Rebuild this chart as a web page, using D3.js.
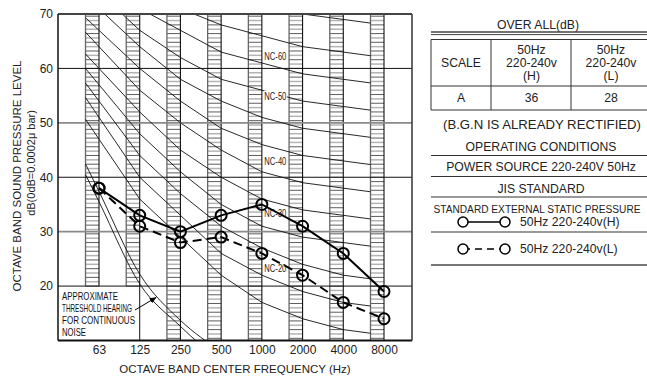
<!DOCTYPE html>
<html>
<head>
<meta charset="utf-8">
<script src="https://cdn.jsdelivr.net/npm/d3@7"></script>
<style>
  html, body { margin: 0; padding: 0; background: #fff; }
  svg { display: block; font-family: "Liberation Sans", Arial, sans-serif; }
</style>
</head>
<body>
<svg id="chart" width="647" height="378"></svg>
<script>
// Octave band centre frequencies (category labels)
const freqs = ["63", "125", "250", "500", "1000", "2000", "4000", "8000"];
const yTicks = [20, 30, 40, 50, 60, 70];

// Measured sound pressure levels (dB)
const seriesH = [38, 33, 30, 33, 35, 31, 26, 19];   // 50Hz 220-240v (H)
const seriesL = [38, 31, 28, 29, 26, 22, 17, 14];   // 50Hz 220-240v (L)

// Noise criterion curves, dB per octave band
const ncNames = ["NC-15", "NC-20", "NC-25", "NC-30", "NC-35", "NC-40", "NC-45", "NC-50", "NC-55", "NC-60", "NC-65", "NC-70"];
const ncLevels = [
  [47, 36, 29, 22, 17, 14, 12, 11],
  [51, 40, 33, 26, 22, 19, 17, 16],
  [54, 44, 37, 31, 27, 24, 22, 21],
  [57, 48, 41, 35, 31, 29, 28, 27],
  [60, 52, 45, 40, 36, 34, 33, 32],
  [64, 56, 50, 45, 41, 39, 38, 37],
  [67, 60, 54, 49, 46, 44, 43, 42],
  [71, 64, 58, 54, 51, 49, 48, 47],
  [74, 67, 62, 58, 56, 54, 53, 52],
  [77, 71, 67, 63, 61, 59, 58, 57],
  [80, 75, 71, 68, 66, 64, 63, 62],
  [83, 79, 75, 72, 71, 70, 69, 68]
];
// Curve names that are printed, and the level each name is printed at
const ncLabels = ["NC-20", "NC-30", "NC-40", "NC-50", "NC-60"];
const ncLabelLevels = [23.3, 33.3, 43, 54.9, 62.3];

// Approximate hearing threshold for continuous noise (63-500 Hz)
const thresholdLow = [35.5, 20.4, 12.6, 6];
const thresholdHigh = [37.4, 22.2, 13.7, 8];

// Overall levels table
const tableCols = ["SCALE", "50Hz|220-240v|(H)", "50Hz|220-240v|(L)"];
const tableRow = ["A", "36", "28"];

const svg = d3.select("#chart");
const plot = { left: 58, right: 412, top: 14, bottom: 340.5 };
const bandW = 13.5;

const x = d3.scaleLinear().domain([0, freqs.length - 1]).range([99, 384]);
const y = d3.scaleLinear().domain([10, 70]).range([plot.bottom, plot.top]);

const defs = svg.append("defs");
defs.append("clipPath").attr("id", "plotClip")
  .append("rect").attr("x", plot.left).attr("y", plot.top)
  .attr("width", plot.right - plot.left).attr("height", plot.bottom - plot.top);
defs.append("marker").attr("id", "arrowHead")
  .attr("viewBox", "0 0 10 10").attr("refX", 9).attr("refY", 5)
  .attr("markerWidth", 7).attr("markerHeight", 7).attr("orient", "auto")
  .append("path").attr("d", "M0,1 L10,5 L0,9 Z").attr("fill", "#000");

// Hatched octave bands (63 and 125 stop at the 20 dB line)
const bands = svg.append("g");
const hatchStep = 0.8;
freqs.forEach((f, i) => {
  const x1 = x(i) - bandW, x2 = x(i);
  const floorDb = i < 2 ? 20 : 10;
  const g = bands.append("g");
  let k = 0;
  for (let v = 70 - hatchStep / 2; v > floorDb; v -= hatchStep, k++) {
    const dark = k % 2 === 0;
    g.append("line").attr("x1", x1).attr("x2", x2).attr("y1", y(v)).attr("y2", y(v))
      .attr("stroke", dark ? "#333" : "#b4b4b4").attr("stroke-width", dark ? 0.8 : 1.5);
  }
  g.append("line").attr("x1", x1).attr("x2", x1).attr("y1", y(70)).attr("y2", y(floorDb))
    .attr("stroke", "#666").attr("stroke-width", 1.3);
  g.append("line").attr("x1", x2).attr("x2", x2).attr("y1", y(70)).attr("y2", y(floorDb))
    .attr("stroke", "#111").attr("stroke-width", 1.1);
});

// Horizontal grid
const grid = svg.append("g");
yTicks.filter(v => v < 70).forEach(v => {
  const grey = v === 50 || v === 30;
  grid.append("line").attr("x1", plot.left).attr("x2", plot.right)
    .attr("y1", y(v)).attr("y2", y(v))
    .attr("stroke", grey ? "#8a8a8a" : "#111").attr("stroke-width", grey ? 1.6 : 1);
});
// Border of the threshold note box
grid.append("line").attr("x1", x(1)).attr("x2", x(1)).attr("y1", y(20)).attr("y2", plot.bottom)
  .attr("stroke", "#111").attr("stroke-width", 1);

// NC curves: drawn across the band span, from the first band's edge to the last band's edge
const curves = svg.append("g").attr("clip-path", "url(#plotClip)");
const xStart = -bandW / (x(1) - x(0));
const lineIdx = d3.line().x(d => x(d[0])).y(d => y(d[1]));
ncLevels.forEach(vals => {
  const n = vals.length;
  const pts = [[xStart, vals[0] + (vals[0] - vals[1]) * (-xStart)]];
  vals.slice(0, n - 1).forEach((v, i) => pts.push([i, v]));
  const endIdx = n - 1 + xStart;
  pts.push([endIdx, vals[n - 2] + (vals[n - 1] - vals[n - 2]) * (endIdx - (n - 2))]);
  curves.append("path").attr("d", lineIdx(pts)).attr("fill", "none")
    .attr("stroke", "#111").attr("stroke-width", 0.9);
});

// Hearing threshold pair
const smooth = d3.line().x(d => x(d[0])).y(d => y(d[1])).curve(d3.curveMonotoneX);
[thresholdLow, thresholdHigh].forEach(vals => {
  const pts = [[xStart, vals[0] + (vals[0] - vals[1]) * (-xStart)]];
  vals.forEach((v, i) => pts.push([i, v]));
  curves.append("path").attr("d", smooth(pts)).attr("fill", "none")
    .attr("stroke", "#111").attr("stroke-width", 0.9);
});

// NC labels on white patches
const labelG = svg.append("g");
ncLabels.forEach((name, k) => {
  const lx = x(4) + 2, ly = y(ncLabelLevels[k]);
  labelG.append("rect").attr("x", lx).attr("y", ly - 5.5).attr("width", 23).attr("height", 11).attr("fill", "#fff");
  labelG.append("text").attr("x", lx + 0.5).attr("y", ly).attr("dy", "0.35em")
    .attr("font-size", 10.5).attr("textLength", 22).attr("lengthAdjust", "spacingAndGlyphs")
    .attr("fill", "#222").text(name);
});

// Threshold note
const note = svg.append("g").attr("font-size", 10.5).attr("fill", "#111");
[["APPROXIMATE", 296.5, 56], ["THRESHOLD HEARING", 308.5, 70], ["FOR CONTINUOUS", 320.7, 73], ["NOISE", 332.7, 24]]
  .forEach(([t, ty, w]) => {
    note.append("text").attr("x", 62).attr("y", ty).attr("dy", "0.35em")
      .attr("textLength", w).attr("lengthAdjust", "spacingAndGlyphs").text(t);
  });
svg.append("line").attr("x1", 135).attr("y1", 310).attr("x2", 156).attr("y2", 297.5)
  .attr("stroke", "#000").attr("stroke-width", 1).attr("marker-end", "url(#arrowHead)");

// Frame
const frame = svg.append("g");
frame.append("line").attr("x1", plot.left).attr("x2", plot.right).attr("y1", plot.top).attr("y2", plot.top).attr("stroke", "#444").attr("stroke-width", 2);
frame.append("line").attr("x1", plot.left).attr("x2", plot.right).attr("y1", plot.bottom).attr("y2", plot.bottom).attr("stroke", "#111").attr("stroke-width", 2);
frame.append("line").attr("x1", plot.left).attr("x2", plot.left).attr("y1", plot.top).attr("y2", plot.bottom).attr("stroke", "#111").attr("stroke-width", 1.5);
frame.append("line").attr("x1", plot.right).attr("x2", plot.right).attr("y1", plot.top).attr("y2", plot.bottom).attr("stroke", "#333").attr("stroke-width", 1.5);

// Measured series
const seriesLine = d3.line().x((d, i) => x(i)).y(d => y(d));
const seriesG = svg.append("g");
[[seriesL, "9,5"], [seriesH, null]].forEach(([vals, dash]) => {
  seriesG.append("path").attr("d", seriesLine(vals)).attr("fill", "none")
    .attr("stroke", "#000").attr("stroke-width", 2).attr("stroke-dasharray", dash);
  vals.forEach((v, i) => {
    seriesG.append("circle").attr("cx", x(i)).attr("cy", y(v)).attr("r", 5.5)
      .attr("fill", "none").attr("stroke", "#000").attr("stroke-width", 2);
  });
});

// Axes
const xAxis = svg.append("g").attr("transform", `translate(0,${plot.bottom})`)
  .call(d3.axisBottom(x).tickValues(d3.range(freqs.length)).tickFormat(i => freqs[i]).tickSize(0).tickPadding(5));
xAxis.select(".domain").remove();
xAxis.selectAll("text").attr("font-size", 12).attr("font-family", "Liberation Sans, Arial").attr("fill", "#222");

const yAxis = svg.append("g").attr("transform", `translate(${plot.left},0)`)
  .call(d3.axisLeft(y).tickValues(yTicks).tickSize(0).tickPadding(5));
yAxis.select(".domain").remove();
yAxis.selectAll("text").attr("font-size", 12).attr("font-family", "Liberation Sans, Arial").attr("fill", "#222");

svg.append("text").attr("x", (plot.left + plot.right) / 2).attr("y", 369).attr("dy", "0.35em")
  .attr("text-anchor", "middle").attr("font-size", 11.5).attr("fill", "#222")
  .text("OCTAVE BAND CENTER FREQUENCY (Hz)");
svg.append("text").attr("transform", "translate(17,176) rotate(-90)").attr("dy", "0.35em")
  .attr("text-anchor", "middle").attr("font-size", 11.5).attr("fill", "#222")
  .text("OCTAVE BAND SOUND PRESSURE LEVEL");
svg.append("text").attr("transform", "translate(31,163) rotate(-90)").attr("dy", "0.35em")
  .attr("text-anchor", "middle").attr("font-size", 11).attr("fill", "#222")
  .text("dB(0dB=0.0002\u03bc bar)");

// Right-hand panel (runs off the right edge of the page)
const panel = svg.append("g").attr("font-size", 12.2).attr("fill", "#222");
const pL = 431, pR = 647;
const hline = (yy, w, c) => panel.append("line").attr("x1", pL).attr("x2", pR).attr("y1", yy).attr("y2", yy)
  .attr("stroke", c || "#333").attr("stroke-width", w || 1);
const ctext = (t, cx, cy) => panel.append("text").attr("x", cx).attr("y", cy).attr("dy", "0.35em")
  .attr("text-anchor", "middle").text(t);

ctext("OVER ALL(dB)", 538, 25);
hline(32, 1.6, "#444");
hline(34.6, 1, "#444");

const colX = [pL, 491, 571];
const colC = [461, 531.5, 611];
const rowY = [39.5, 86, 110];
rowY.forEach(ry => hline(ry, 1));
colX.forEach(cx => panel.append("line").attr("x1", cx).attr("x2", cx)
  .attr("y1", rowY[0]).attr("y2", rowY[2]).attr("stroke", "#333").attr("stroke-width", 1));
tableCols.forEach((c, i) => {
  const parts = c.split("|");
  parts.forEach((p, j) => ctext(p, colC[i], 63 + (j - (parts.length - 1) / 2) * 12.8));
  ctext(tableRow[i], colC[i], 97.5);
});

ctext("(B.G.N IS ALREADY RECTIFIED)", 542, 124.5).attr("textLength", 198).attr("lengthAdjust", "spacingAndGlyphs");
ctext("OPERATING CONDITIONS", 541, 146.5);
hline(155.5, 1.2);
ctext("POWER SOURCE 220-240V 50Hz", 541, 166.5);
hline(176.5, 1.2);
ctext("JIS STANDARD", 541, 188.5);
hline(197, 1.2);
ctext("STANDARD EXTERNAL STATIC PRESSURE", 537, 209).attr("font-size", 10)
  .attr("textLength", 207).attr("lengthAdjust", "spacingAndGlyphs");
hline(232, 1.2);
hline(265, 1.8, "#777");

// Legend samples
[["50Hz 220-240v(H)", 222, null], ["50Hz 220-240v(L)", 249, "7,5"]].forEach(([t, ly, dash]) => {
  panel.append("line").attr("x1", 463).attr("x2", 505).attr("y1", ly).attr("y2", ly)
    .attr("stroke", "#000").attr("stroke-width", 1.6).attr("stroke-dasharray", dash);
  [463, 505].forEach(cx => panel.append("circle").attr("cx", cx).attr("cy", ly).attr("r", 5)
    .attr("fill", "#fff").attr("stroke", "#000").attr("stroke-width", 1.5));
  panel.append("text").attr("x", 520).attr("y", ly).attr("dy", "0.35em").text(t);
});
</script>
</body>
</html>
